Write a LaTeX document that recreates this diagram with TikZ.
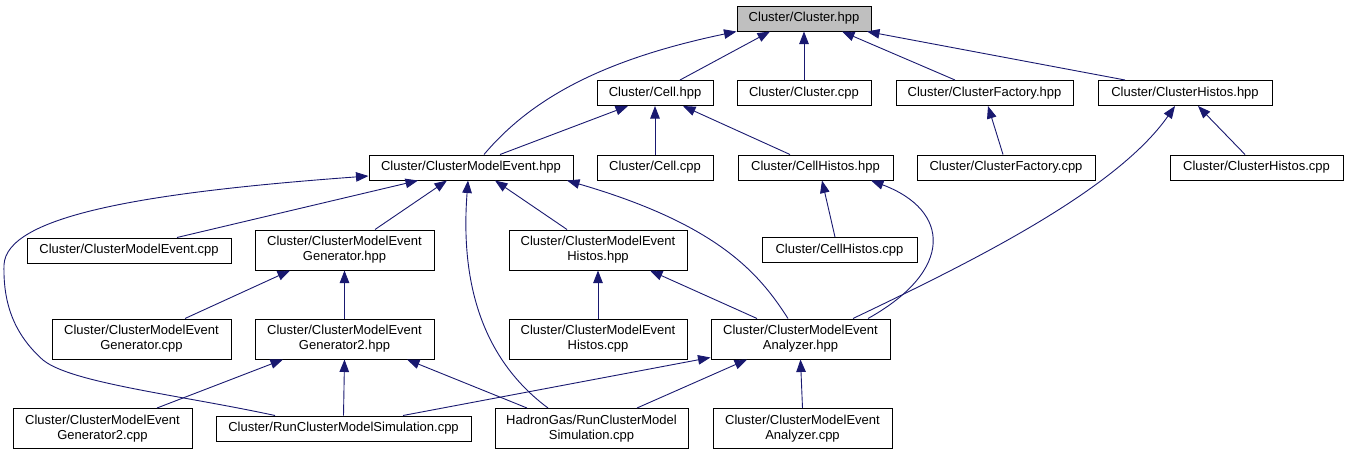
\documentclass[tikz,border=0pt]{standalone}
\usepackage{fontspec}
\setmainfont{Liberation Sans}
\usetikzlibrary{arrows.meta,positioning}
\definecolor{edgeblue}{RGB}{25,25,112}
\definecolor{hdrgray}{RGB}{191,191,191}

\begin{document}
\begin{tikzpicture}[
  x=1pt,y=-1pt,
  file/.style={rectangle,draw=black,fill=white,line width=1pt,inner sep=0pt,
               minimum height=25pt,align=center,font=\fontsize{13}{15}\selectfont},
  twoline/.style={file,minimum height=40pt},
  mainfile/.style={file,fill=hdrgray},
  dep/.style={-{Triangle[length=12.5pt,width=9.5pt]},edgeblue,line width=0.9pt}
]
  \useasboundingbox (0,0) rectangle (1349,455);

  % header and the files that include it
  \node[mainfile,minimum width=134pt] (hpp)    at (804,18.5)  {Cluster/Cluster.hpp};
  \node[file,minimum width=116pt]     (cellh)  at (655,93)    {Cluster/Cell.hpp};
  \node[file,minimum width=134pt]     (clcpp)  at (804,93)    {Cluster/Cluster.cpp};
  \node[file,minimum width=177pt]     (facth)  at (984.5,93)  {Cluster/ClusterFactory.hpp};
  \node[file,minimum width=174pt]     (histh)  at (1185,93)   {Cluster/ClusterHistos.hpp};

  \node[file,minimum width=204pt]     (cmeh)   at (471,167.5)    {Cluster/ClusterModelEvent.hpp};
  \node[file,minimum width=116pt]     (cellc)  at (655,167.5)    {Cluster/Cell.cpp};
  \node[file,minimum width=155pt]     (cellhh) at (815.5,167.5)  {Cluster/CellHistos.hpp};
  \node[file,minimum width=178pt]     (factc)  at (1006,167.5)   {Cluster/ClusterFactory.cpp};
  \node[file,minimum width=173pt]     (histc)  at (1256.5,167.5) {Cluster/ClusterHistos.cpp};

  \node[file,minimum width=204pt]     (cmec)   at (129,250.5)  {Cluster/ClusterModelEvent.cpp};
  \node[twoline,minimum width=179pt]  (genh)   at (344.5,250)  {Cluster/ClusterModelEvent\\Generator.hpp};
  \node[twoline,minimum width=178pt]  (cmehh)  at (598,250)    {Cluster/ClusterModelEvent\\Histos.hpp};
  \node[file,minimum width=155pt]     (cellhc) at (839.5,250)  {Cluster/CellHistos.cpp};

  \node[twoline,minimum width=179pt]  (genc)   at (141.5,339)  {Cluster/ClusterModelEvent\\Generator.cpp};
  \node[twoline,minimum width=179pt]  (gen2h)  at (344.5,339)  {Cluster/ClusterModelEvent\\Generator2.hpp};
  \node[twoline,minimum width=178pt]  (cmehc)  at (598,339)    {Cluster/ClusterModelEvent\\Histos.cpp};
  \node[twoline,minimum width=179pt]  (anah)   at (800.5,339)  {Cluster/ClusterModelEvent\\Analyzer.hpp};

  \node[twoline,minimum width=179pt]  (gen2c)  at (102.5,428.5) {Cluster/ClusterModelEvent\\Generator2.cpp};
  \node[file,minimum width=255pt]     (runc)   at (343.5,428.5) {Cluster/RunClusterModelSimulation.cpp};
  \node[twoline,minimum width=193pt]  (hadc)   at (591.5,428.5) {HadronGas/RunClusterModel\\Simulation.cpp};
  \node[twoline,minimum width=179pt]  (anac)   at (802.5,428.5) {Cluster/ClusterModelEvent\\Analyzer.cpp};

  % include edges
  \draw[dep] ([xshift=13pt]cmeh.north) .. controls (530,100) and (600,60) .. (hpp.south west);
  \draw[dep] ([xshift=25pt]cellh.north) -- ([xshift=-34pt]hpp.south);
  \draw[dep] (clcpp.north) -- (hpp.south);
  \draw[dep] ([xshift=-29.5pt]facth.north) -- ([xshift=38pt]hpp.south);
  \draw[dep] ([xshift=-60pt]histh.north) -- ([xshift=63pt]hpp.south);

  \draw[dep] ([xshift=29pt]cmeh.north) -- ([xshift=-27pt]cellh.south);
  \draw[dep] (cellc.north) -- (cellh.south);
  \draw[dep] ([xshift=-25.5pt]cellhh.north) -- ([xshift=28pt]cellh.south);
  \draw[dep] ([xshift=-3pt]factc.north) -- ([xshift=3.5pt]facth.south);
  \draw[dep] ([xshift=52.5pt]anah.north) .. controls (965,265) and (1115,192) .. ([xshift=-10pt]histh.south);
  \draw[dep] ([xshift=-11.5pt]histc.north) -- ([xshift=13pt]histh.south);

  \draw[dep] ([xshift=48pt]cmec.north) -- ([xshift=-53pt]cmeh.south);
  \draw[dep] ([xshift=30.5pt]genh.north) -- ([xshift=-24pt]cmeh.south);
  \draw[dep] ([xshift=-43.5pt]hadc.north) .. controls (470,350) and (462,260) .. ([xshift=-3pt]cmeh.south);
  \draw[dep] ([xshift=-31pt]cmehh.north) -- ([xshift=24pt]cmeh.south);
  \draw[dep] ([xshift=-12.5pt]anah.north) .. controls (760,275) and (720,225) .. ([xshift=96pt]cmeh.south);
  \draw[dep] ([xshift=-68.5pt]runc.north) .. controls (180,395) and (71,383) .. (43,360)
             .. controls (15,335) and (3,305) .. (4,265)
             .. controls (6,215) and (150,192) .. ([yshift=-8.5pt]cmeh.west);

  \draw[dep] ([xshift=43.5pt]genc.north) -- ([xshift=-54.5pt]genh.south);
  \draw[dep] (gen2h.north) -- (genh.south);
  \draw[dep] ([xshift=54.5pt]gen2c.north) -- ([xshift=-61.5pt]gen2h.south);
  \draw[dep] (runc.north) -- (gen2h.south);
  \draw[dep] ([xshift=-64.5pt]hadc.north) -- ([xshift=62.5pt]gen2h.south);

  \draw[dep] (cmehc.north) -- (cmehh.south);
  \draw[dep] ([xshift=-43.5pt]anah.north) -- ([xshift=52pt]cmehh.south);
  \draw[dep] ([xshift=59.5pt]runc.north) -- ([yshift=2pt]anah.south west);
  \draw[dep] ([xshift=45.5pt]hadc.north) -- ([xshift=-53.5pt]anah.south);
  \draw[dep] (anac.north) -- (anah.south);

  \draw[dep] ([xshift=-4.5pt]cellhc.north) -- ([xshift=6.5pt]cellhh.south);
  \draw[dep] ([xshift=67.5pt]anah.north) .. controls (955,270) and (950,210) .. ([xshift=55.5pt]cellhh.south);
\end{tikzpicture}
\end{document}
